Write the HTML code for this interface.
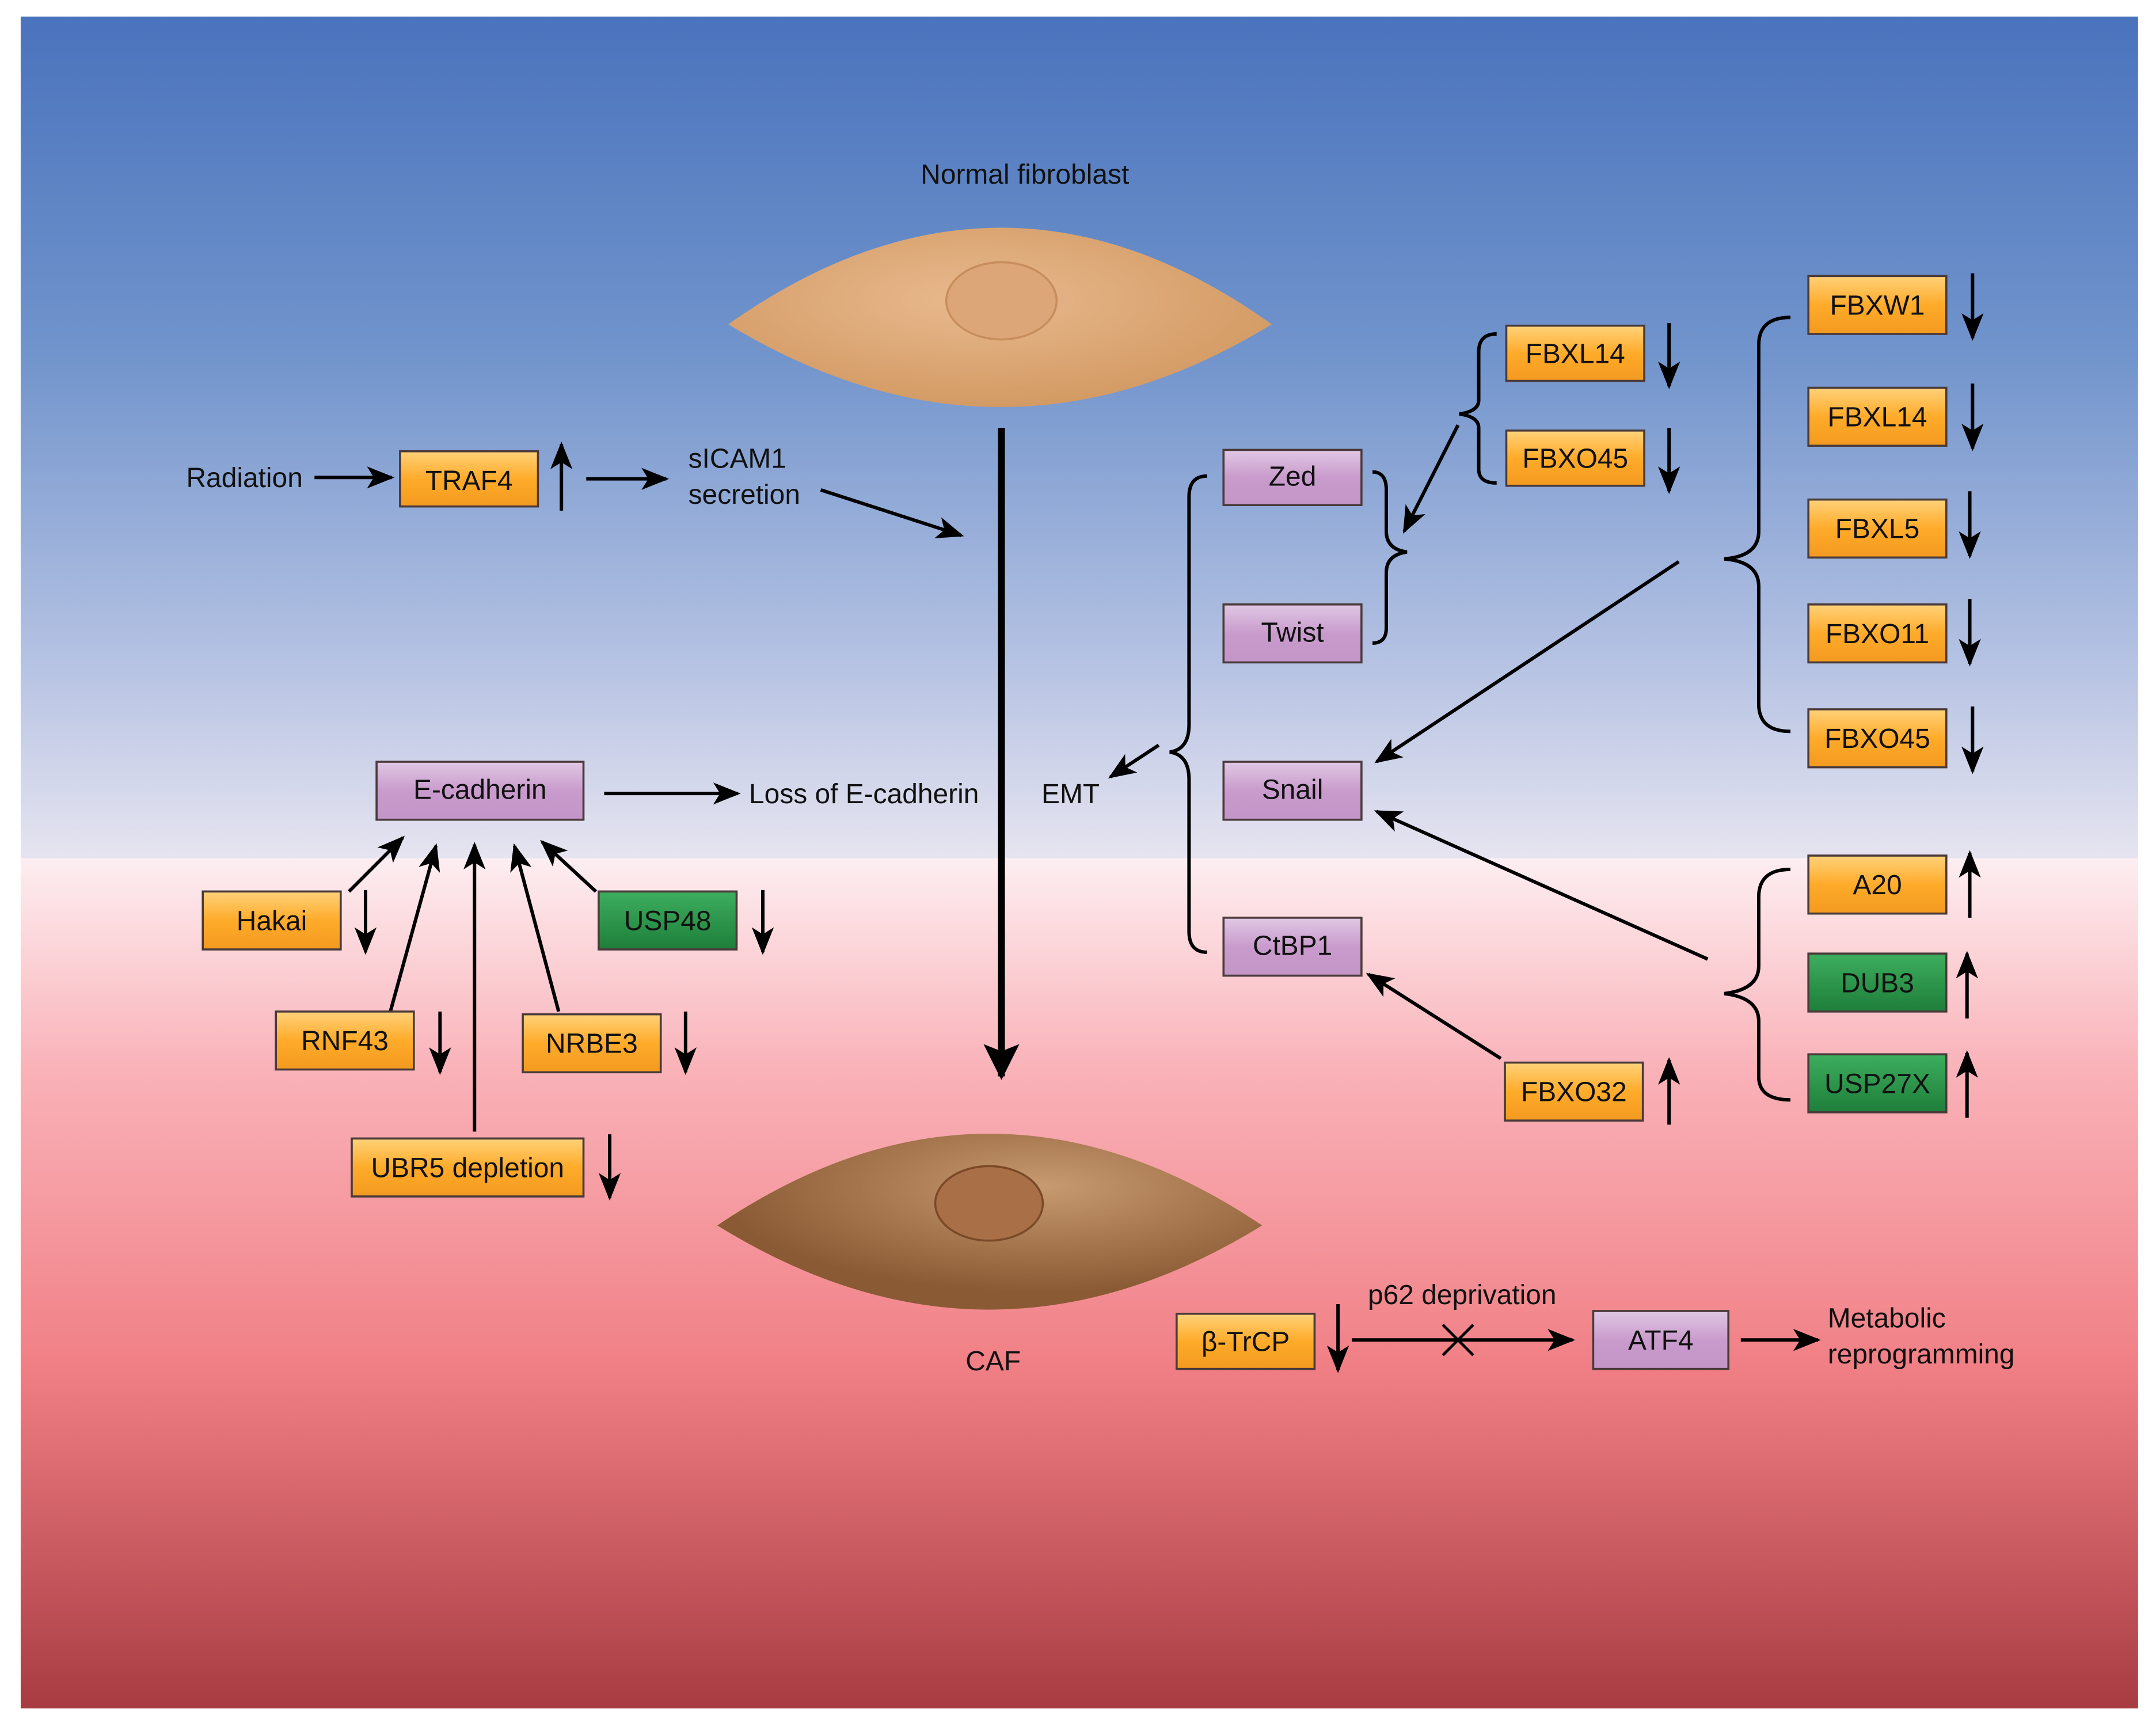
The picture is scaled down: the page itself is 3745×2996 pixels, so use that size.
<!DOCTYPE html>
<html><head><meta charset="utf-8"><style>html,body{margin:0;padding:0;background:#fff}svg{display:block}</style></head>
<body>
<svg width="3745" height="2996" viewBox="0 0 1563 1250" preserveAspectRatio="none" xmlns="http://www.w3.org/2000/svg" font-family="Liberation Sans, Arial, sans-serif">
<defs>
<linearGradient id="top" x1="0" y1="0" x2="0" y2="1">
<stop offset="0" stop-color="#4a73bd"/><stop offset="0.4" stop-color="#7194cc"/><stop offset="0.75" stop-color="#b2c0e2"/><stop offset="1" stop-color="#e6e4f0"/></linearGradient>
<linearGradient id="bot" x1="0" y1="0" x2="0" y2="1">
<stop offset="0" stop-color="#fdeef1"/><stop offset="0.25" stop-color="#f9b2b8"/><stop offset="0.6" stop-color="#f07f85"/><stop offset="1" stop-color="#a83b42"/></linearGradient>
<linearGradient id="or" x1="0" y1="0" x2="0" y2="1"><stop offset="0" stop-color="#ffd27a"/><stop offset="0.5" stop-color="#ffab2a"/><stop offset="1" stop-color="#f39a20"/></linearGradient>
<linearGradient id="pu" x1="0" y1="0" x2="0" y2="1"><stop offset="0" stop-color="#e0c8e4"/><stop offset="0.5" stop-color="#c99bcc"/><stop offset="1" stop-color="#c395c8"/></linearGradient>
<linearGradient id="gr" x1="0" y1="0" x2="0" y2="1"><stop offset="0" stop-color="#3dae5e"/><stop offset="1" stop-color="#1e7e3a"/></linearGradient>
<radialGradient id="c1" cx="0.45" cy="0.4" r="0.6"><stop offset="0" stop-color="#e8b98e"/><stop offset="1" stop-color="#d39a63"/></radialGradient>
<radialGradient id="c2" cx="0.6" cy="0.3" r="0.6"><stop offset="0" stop-color="#c89a70"/><stop offset="1" stop-color="#8a5a34"/></radialGradient>
<marker id="a" viewBox="0 0 10 10" refX="9" refY="5" markerWidth="9" markerHeight="9" markerUnits="userSpaceOnUse" orient="auto"><path d="M0,0 L10,5 L0,10 L2,5z" fill="#000"/></marker>
<marker id="b" viewBox="0 0 10 10" refX="9" refY="5" markerWidth="26" markerHeight="26" markerUnits="userSpaceOnUse" orient="auto"><path d="M0,0 L10,5 L0,10 L2,5z" fill="#000"/></marker>
<marker id="m" viewBox="0 0 10 10" refX="9" refY="5" markerWidth="20" markerHeight="20" markerUnits="userSpaceOnUse" orient="auto"><path d="M0,1 L10,5 L0,9 L2.5,5z" fill="#000"/></marker>
</defs>
<rect x="15" y="12" width="1535" height="610" fill="url(#top)"/>
<rect x="15" y="622" width="1535" height="616" fill="url(#bot)"/>

<!-- cells -->
<path d="M528,235 Q726,95 922,235 Q726,355 528,235z" fill="url(#c1)"/>
<ellipse cx="726" cy="218" rx="40" ry="28" fill="#dca678" stroke="#c78e5c" stroke-width="1.5"/>
<path d="M520,888 Q717,755 915,888 Q717,1010 520,888z" fill="url(#c2)"/>
<ellipse cx="717" cy="872" rx="39" ry="27" fill="#a97048" stroke="#7a4a28" stroke-width="1.5"/>

<g stroke="#000" fill="none" stroke-width="2.5">
<line x1="726" y1="310" x2="726" y2="780" stroke-width="5" marker-end="url(#b)"/>
<line x1="228" y1="346" x2="284" y2="346" marker-end="url(#m)"/>
<line x1="407" y1="370" x2="407" y2="322" marker-end="url(#m)"/>
<line x1="425" y1="347" x2="483" y2="347" marker-end="url(#m)"/>
<line x1="595" y1="355" x2="697" y2="388" marker-end="url(#m)"/>
<line x1="438" y1="575" x2="535" y2="575" marker-end="url(#m)"/>
<line x1="840" y1="540" x2="805" y2="563" marker-end="url(#m)"/>
<path d="M875,345 Q862,345 862,360 L862,525 Q862,543 848,545 Q862,547 862,565 L862,675 Q862,690 875,690"/>
<path d="M995,342 Q1005,342 1005,355 L1005,385 Q1005,398 1020,400 Q1005,402 1005,415 L1005,455 Q1005,466 995,466"/>
<line x1="1057" y1="308" x2="1018" y2="385" marker-end="url(#m)"/>
<path d="M1085,242 Q1072,242 1072,255 L1072,290 Q1072,298 1058,300 Q1072,302 1072,310 L1072,340 Q1072,350 1085,350"/>
<line x1="1210" y1="234" x2="1210" y2="280" marker-end="url(#m)"/>
<line x1="1210" y1="310" x2="1210" y2="356" marker-end="url(#m)"/>
<path d="M1298,230 Q1275,230 1275,250 L1275,385 Q1275,403 1250,405 Q1275,407 1275,425 L1275,510 Q1275,530 1298,530"/>
<line x1="1217" y1="407" x2="998" y2="552" marker-end="url(#m)"/>
<line x1="1430" y1="198" x2="1430" y2="245" marker-end="url(#m)"/>
<line x1="1430" y1="278" x2="1430" y2="325" marker-end="url(#m)"/>
<line x1="1428" y1="356" x2="1428" y2="403" marker-end="url(#m)"/>
<line x1="1428" y1="434" x2="1428" y2="481" marker-end="url(#m)"/>
<line x1="1430" y1="512" x2="1430" y2="559" marker-end="url(#m)"/>
<path d="M1298,630 Q1275,630 1275,650 L1275,700 Q1275,717 1250,720 Q1275,723 1275,740 L1275,780 Q1275,797 1298,797"/>
<line x1="1238" y1="695" x2="998" y2="588" marker-end="url(#m)"/>
<line x1="1428" y1="665" x2="1428" y2="618" marker-end="url(#m)"/>
<line x1="1426" y1="738" x2="1426" y2="691" marker-end="url(#m)"/>
<line x1="1426" y1="810" x2="1426" y2="763" marker-end="url(#m)"/>
<line x1="1088" y1="767" x2="992" y2="706" marker-end="url(#m)"/>
<line x1="1210" y1="815" x2="1210" y2="768" marker-end="url(#m)"/>
<line x1="253" y1="646" x2="292" y2="607" marker-end="url(#m)"/>
<line x1="265" y1="645" x2="265" y2="690" marker-end="url(#m)"/>
<line x1="432" y1="646" x2="393" y2="610" marker-end="url(#m)"/>
<line x1="553" y1="645" x2="553" y2="690" marker-end="url(#m)"/>
<line x1="283" y1="733" x2="316" y2="613" marker-end="url(#m)"/>
<line x1="319" y1="733" x2="319" y2="777" marker-end="url(#m)"/>
<line x1="405" y1="733" x2="373" y2="613" marker-end="url(#m)"/>
<line x1="497" y1="733" x2="497" y2="777" marker-end="url(#m)"/>
<line x1="344" y1="820" x2="344" y2="612" marker-end="url(#m)"/>
<line x1="442" y1="822" x2="442" y2="868" marker-end="url(#m)"/>
<line x1="970" y1="945" x2="970" y2="993" marker-end="url(#m)"/>
<line x1="980" y1="971" x2="1140" y2="971" marker-end="url(#m)"/>
<line x1="1046" y1="960" x2="1068" y2="982" stroke-width="2"/>
<line x1="1068" y1="960" x2="1046" y2="982" stroke-width="2"/>
<line x1="1262" y1="971" x2="1318" y2="971" marker-end="url(#m)"/>
</g>

<g stroke="#4a3a3a" stroke-width="1.5">
<rect x="290" y="327" width="100" height="40" fill="url(#or)"/>
<rect x="273" y="552" width="150" height="42" fill="url(#pu)"/>
<rect x="887" y="326" width="100" height="40" fill="url(#pu)"/>
<rect x="887" y="438" width="100" height="42" fill="url(#pu)"/>
<rect x="887" y="552" width="100" height="42" fill="url(#pu)"/>
<rect x="887" y="665" width="100" height="42" fill="url(#pu)"/>
<rect x="1092" y="236" width="100" height="40" fill="url(#or)"/>
<rect x="1092" y="312" width="100" height="40" fill="url(#or)"/>
<rect x="1311" y="200" width="100" height="42" fill="url(#or)"/>
<rect x="1311" y="281" width="100" height="42" fill="url(#or)"/>
<rect x="1311" y="362" width="100" height="42" fill="url(#or)"/>
<rect x="1311" y="438" width="100" height="42" fill="url(#or)"/>
<rect x="1311" y="514" width="100" height="42" fill="url(#or)"/>
<rect x="1311" y="620" width="100" height="42" fill="url(#or)"/>
<rect x="1311" y="691" width="100" height="42" fill="url(#gr)"/>
<rect x="1311" y="764" width="100" height="42" fill="url(#gr)"/>
<rect x="1091" y="770" width="100" height="42" fill="url(#or)"/>
<rect x="147" y="646" width="100" height="42" fill="url(#or)"/>
<rect x="434" y="646" width="100" height="42" fill="url(#gr)"/>
<rect x="200" y="733" width="100" height="42" fill="url(#or)"/>
<rect x="379" y="735" width="100" height="42" fill="url(#or)"/>
<rect x="255" y="825" width="168" height="42" fill="url(#or)"/>
<rect x="853" y="952" width="100" height="40" fill="url(#or)"/>
<rect x="1155" y="950" width="98" height="42" fill="url(#pu)"/>
</g>

<g font-size="20" fill="#111" text-anchor="middle">
<text x="743" y="133">Normal fibroblast</text>
<text x="340" y="355">TRAF4</text>
<text x="348" y="579">E-cadherin</text>
<text x="937" y="352">Zed</text>
<text x="937" y="465">Twist</text>
<text x="937" y="579">Snail</text>
<text x="937" y="692">CtBP1</text>
<text x="1142" y="263">FBXL14</text>
<text x="1142" y="339">FBXO45</text>
<text x="1361" y="228">FBXW1</text>
<text x="1361" y="309">FBXL14</text>
<text x="1361" y="390">FBXL5</text>
<text x="1361" y="466">FBXO11</text>
<text x="1361" y="542">FBXO45</text>
<text x="1361" y="648">A20</text>
<text x="1361" y="719">DUB3</text>
<text x="1361" y="792">USP27X</text>
<text x="1141" y="798">FBXO32</text>
<text x="197" y="674">Hakai</text>
<text x="484" y="674">USP48</text>
<text x="250" y="761">RNF43</text>
<text x="429" y="763">NRBE3</text>
<text x="339" y="853">UBR5 depletion</text>
<text x="903" y="979">β-TrCP</text>
<text x="1204" y="978">ATF4</text>
<text x="720" y="993">CAF</text>
<text x="1060" y="945">p62 deprivation</text>
</g>
<g font-size="20" fill="#111">
<text x="135" y="353">Radiation</text>
<text x="499" y="339">sICAM1</text>
<text x="499" y="365">secretion</text>
<text x="543" y="582">Loss of E-cadherin</text>
<text x="755" y="582">EMT</text>
<text x="1325" y="962">Metabolic</text>
<text x="1325" y="988">reprogramming</text>
</g>
</svg>
</body></html>
